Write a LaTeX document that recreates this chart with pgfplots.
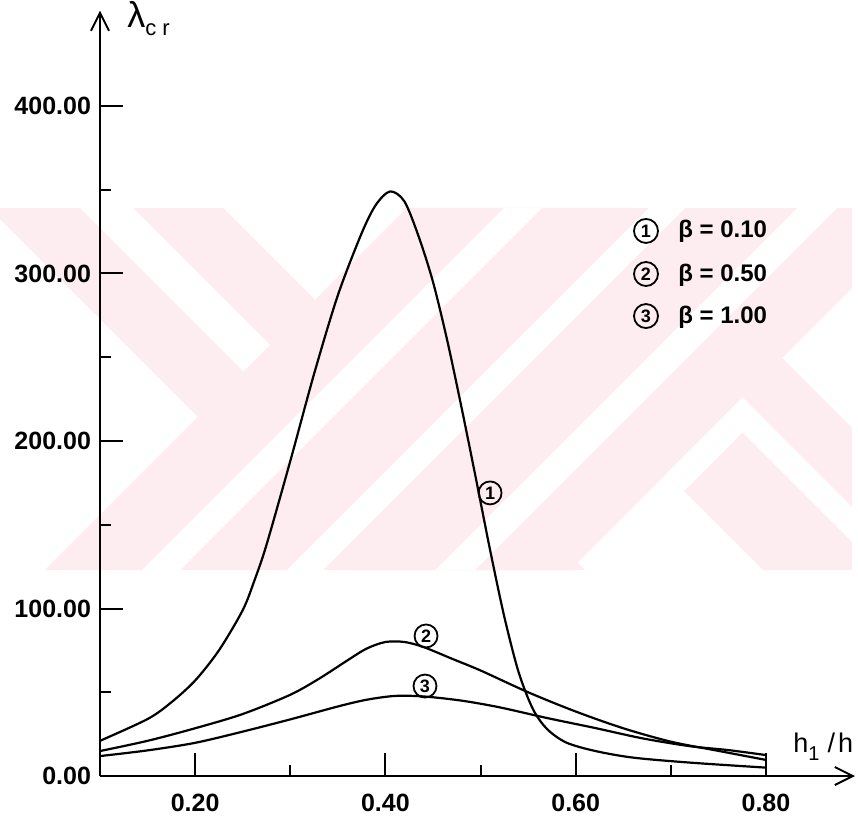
\documentclass[border=0pt]{standalone}
\usepackage{fontspec}
\setmainfont{Liberation Sans}
\usepackage{pgfplots}
\pgfplotsset{compat=1.18}
\usetikzlibrary{arrows.meta}
\definecolor{wmpink}{RGB}{253,236,240}

\tikzset{
  num/.style={circle, draw, line width=0.9pt, inner sep=0pt, minimum size=11.5pt,
              font=\fontsize{9}{9}\selectfont\bfseries},
}

\begin{document}
\begin{tikzpicture}
% light background emblem (1 unit = 1 px of the page, y downwards)
\begin{scope}[shift={(-50pt,388pt)}, x=0.5pt, y=-0.5pt]
  \clip (0,208) rectangle (852,570);
  \fill[wmpink] (-11,208) -- (223,208) -- (585,570) -- (351,570) -- cycle;
  \fill[wmpink] (401,208) -- (632,208) -- (994,570) -- (763,570) -- cycle;
  \fill[wmpink] (407,208) -- (649,208) -- (287,570) -- (45,570) -- cycle;
  \fill[wmpink] (685,208) -- (932,208) -- (570,570) -- (323,570) -- cycle;
  \fill[white] (504,208) -- (542,208) -- (180,570) -- (142,570) -- cycle;
  \fill[white] (649,208) -- (685,208) -- (323,570) -- (287,570) -- cycle;
  \fill[white] (797,208) -- (837,208) -- (475,570) -- (435,570) -- cycle;
  \fill[white] (80,208) -- (133,208) -- (270,345) -- (243.5,371.5) -- cycle;
  \fill[white] (725,415) -- (742.5,397.5) -- (915,570) -- (880,570) -- cycle;
  \fill[white] (666.5,473.5) -- (742.5,397.5) -- (760,415) -- (684,491) -- cycle;
\end{scope}

\begin{axis}[
  scale only axis, width=377.5pt, height=382.74pt,
  xmin=0.1, xmax=0.89357, ymin=0, ymax=457,
  axis lines*=left, enlargelimits=false, clip=false,
  axis line style={line width=1pt, -{Straight Barb[length=9pt,width=9pt]}},
  xtick={0.2,0.4,0.6,0.8}, xticklabels={0.20,0.40,0.60,0.80},
  minor xtick={0.3,0.5,0.7},
  ytick={0,100,200,300,400},
  yticklabels={0.00,100.00,200.00,300.00,400.00},
  minor ytick={50,150,250,350},
  tick align=inside, major tick length=11.5pt, minor tick length=5.5pt,
  tick style={black, line width=1pt},
  tick label style={font=\fontsize{12.5}{14}\selectfont\bfseries},
  xticklabel style={yshift=-5.5pt},
  yticklabel style={xshift=-1pt},
]

% beta = 0.10
\addplot[black, line width=1.1pt, smooth] coordinates {
  (0.100,21) (0.150,34) (0.175,44) (0.200,57) (0.225,75) (0.250,99)
  (0.2625,117) (0.275,138) (0.300,188) (0.325,240) (0.350,287) (0.375,324)
  (0.390,341) (0.405,349) (0.420,343) (0.435,322) (0.450,295) (0.465,260)
  (0.480,220) (0.495,178) (0.510,135) (0.525,95) (0.540,62) (0.555,40)
  (0.570,28) (0.590,20) (0.620,15) (0.660,11) (0.720,8) (0.800,5)
};
% beta = 0.50
\addplot[black, line width=1.1pt, smooth] coordinates {
  (0.10,14.9) (0.15,21) (0.20,28.5) (0.25,37) (0.30,48.5) (0.33,58)
  (0.36,69) (0.38,76) (0.40,80) (0.42,80) (0.44,77) (0.47,70) (0.50,63)
  (0.55,50) (0.60,38.5) (0.65,28.5) (0.70,20.5) (0.75,15) (0.80,9.6)
};
% beta = 1.00
\addplot[black, line width=1.1pt, smooth] coordinates {
  (0.10,11.9) (0.15,15.3) (0.20,19.8) (0.25,26.5) (0.30,33.8) (0.35,41.5)
  (0.38,45.5) (0.41,47.8) (0.44,47.5) (0.48,45) (0.52,41) (0.57,34.6)
  (0.62,28.7) (0.67,22.5) (0.72,17.8) (0.76,15.5) (0.80,12.5)
};

% curve numbers
\node[num] at (axis cs:0.510,169) {1};
\node[num] at (axis cs:0.4427,83.6) {2};
\node[num] at (axis cs:0.4416,53.7) {3};

% key
\node[num, minimum size=12pt] at (axis cs:0.6739,325.4) {1};
\node[num, minimum size=12pt] at (axis cs:0.6739,299.7) {2};
\node[num, minimum size=12pt] at (axis cs:0.6739,274.6) {3};
\node[anchor=base west, inner sep=0pt, font=\fontsize{12}{14}\selectfont\bfseries]
  at (axis cs:0.7075,321.2) {β = 0.10};
\node[anchor=base west, inner sep=0pt, font=\fontsize{12}{14}\selectfont\bfseries]
  at (axis cs:0.7075,295.5) {β = 0.50};
\node[anchor=base west, inner sep=0pt, font=\fontsize{12}{14}\selectfont\bfseries]
  at (axis cs:0.7075,270.4) {β = 1.00};

% axis names
\node[anchor=base west, inner sep=0pt] at (axis cs:0.1284,446.6)
  {\fontsize{18}{18}\selectfont λ\raisebox{-4pt}{\fontsize{11}{11}\selectfont c\hspace{3pt}r}};
\node[anchor=base west, inner sep=0pt] at (axis cs:0.8284,14.3)
  {\fontsize{13.5}{13.5}\selectfont h\raisebox{-4pt}{\fontsize{10}{10}\selectfont 1}\hspace{4pt}/\hspace{1.5pt}h};
\end{axis}

\pgfresetboundingbox
\path[use as bounding box] (-50pt,-22.5pt) rectangle (379pt,388pt);
\end{tikzpicture}
\end{document}
